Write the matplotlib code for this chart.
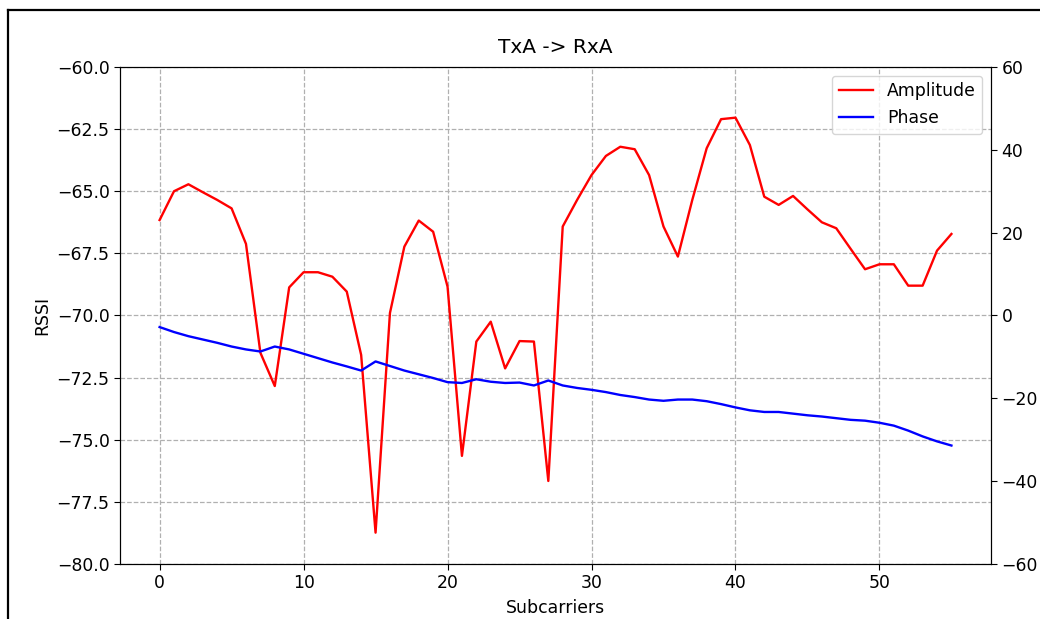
import matplotlib
matplotlib.use("Agg")
import matplotlib.pyplot as plt
from matplotlib.lines import Line2D

subcarriers = list(range(56))
amplitude = [-66.16, -65.00, -64.72, -65.04, -65.35, -65.69, -67.12, -71.50, -72.84, -68.87,
             -68.26, -68.26, -68.44, -69.04, -71.59, -78.74, -69.90, -67.23, -66.18, -66.63,
             -68.84, -75.65, -71.05, -70.25, -72.13, -71.03, -71.05, -76.66, -66.42, -65.35,
             -64.35, -63.58, -63.21, -63.31, -64.35, -66.42, -67.63, -65.35, -63.27, -62.10,
             -62.04, -63.14, -65.22, -65.55, -65.19, -65.73, -66.25, -66.49, -67.32, -68.14,
             -67.94, -67.94, -68.80, -68.80, -67.39, -66.72]
phase = [-2.8, -4.0, -5.0, -5.8, -6.6, -7.5, -8.2, -8.7, -7.5, -8.2,
         -9.25, -10.3, -11.35, -12.3, -13.3, -11.1, -12.2, -13.3, -14.2, -15.1,
         -16.1, -16.3, -15.4, -16.0, -16.3, -16.2, -16.9, -15.7, -16.9, -17.5,
         -17.95, -18.5, -19.2, -19.7, -20.3, -20.6, -20.3, -20.3, -20.7, -21.4,
         -22.2, -22.9, -23.3, -23.3, -23.7, -24.1, -24.4, -24.8, -25.2, -25.4,
         -25.9, -26.6, -27.8, -29.2, -30.4, -31.4]

title = "TxA -> RxA"
xlabel = "Subcarriers"
ylabel = "RSSI"
left_ticks = [-80.0, -77.5, -75.0, -72.5, -70.0, -67.5, -65.0, -62.5, -60.0]
right_ticks = [-60, -40, -20, 0, 20, 40, 60]

plt.rcParams['font.family'] = ['DejaVu Sans']
plt.rcParams['font.size'] = 12.4
plt.rcParams['xtick.major.size'] = 4
plt.rcParams['ytick.major.size'] = 4

fig = plt.figure(figsize=(10.4, 6.19), dpi=100)
ax1 = fig.add_axes([0.1154, 0.0889, 0.8375, 0.8029])
ax2 = ax1.twinx()

l1, = ax1.plot(subcarriers, amplitude, color='red', lw=1.7, label='Amplitude')
l2, = ax2.plot(subcarriers, phase, color='blue', lw=1.7, label='Phase')

ax1.set_ylim(-80, -60)
ax1.set_yticks(left_ticks)
ax1.set_yticklabels([f"{t:.1f}".replace('-', '\u2212') for t in left_ticks])
ax2.set_ylim(-60, 60)
ax2.set_yticks(right_ticks)
ax1.set_xlim(-2.75, 57.75)
ax1.set_xticks([0, 10, 20, 30, 40, 50])

ax1.grid(True, linestyle='--', color='#b0b0b0', linewidth=0.9)
ax1.set_title(title, fontsize=14.5, pad=10)
ax1.set_xlabel(xlabel, labelpad=5)
ax1.set_ylabel(ylabel)

ax2.legend(handles=[l1, l2], loc='upper right', fontsize=12.4)

# screenshot frame
fig.add_artist(Line2D([7.5/1040, 7.5/1040], [0, 1 - 9.5/619], transform=fig.transFigure, color='black', lw=1.6))
fig.add_artist(Line2D([7.5/1040, 1], [1 - 9.5/619, 1 - 9.5/619], transform=fig.transFigure, color='black', lw=1.6))

fig.savefig("out.png", dpi=100)
